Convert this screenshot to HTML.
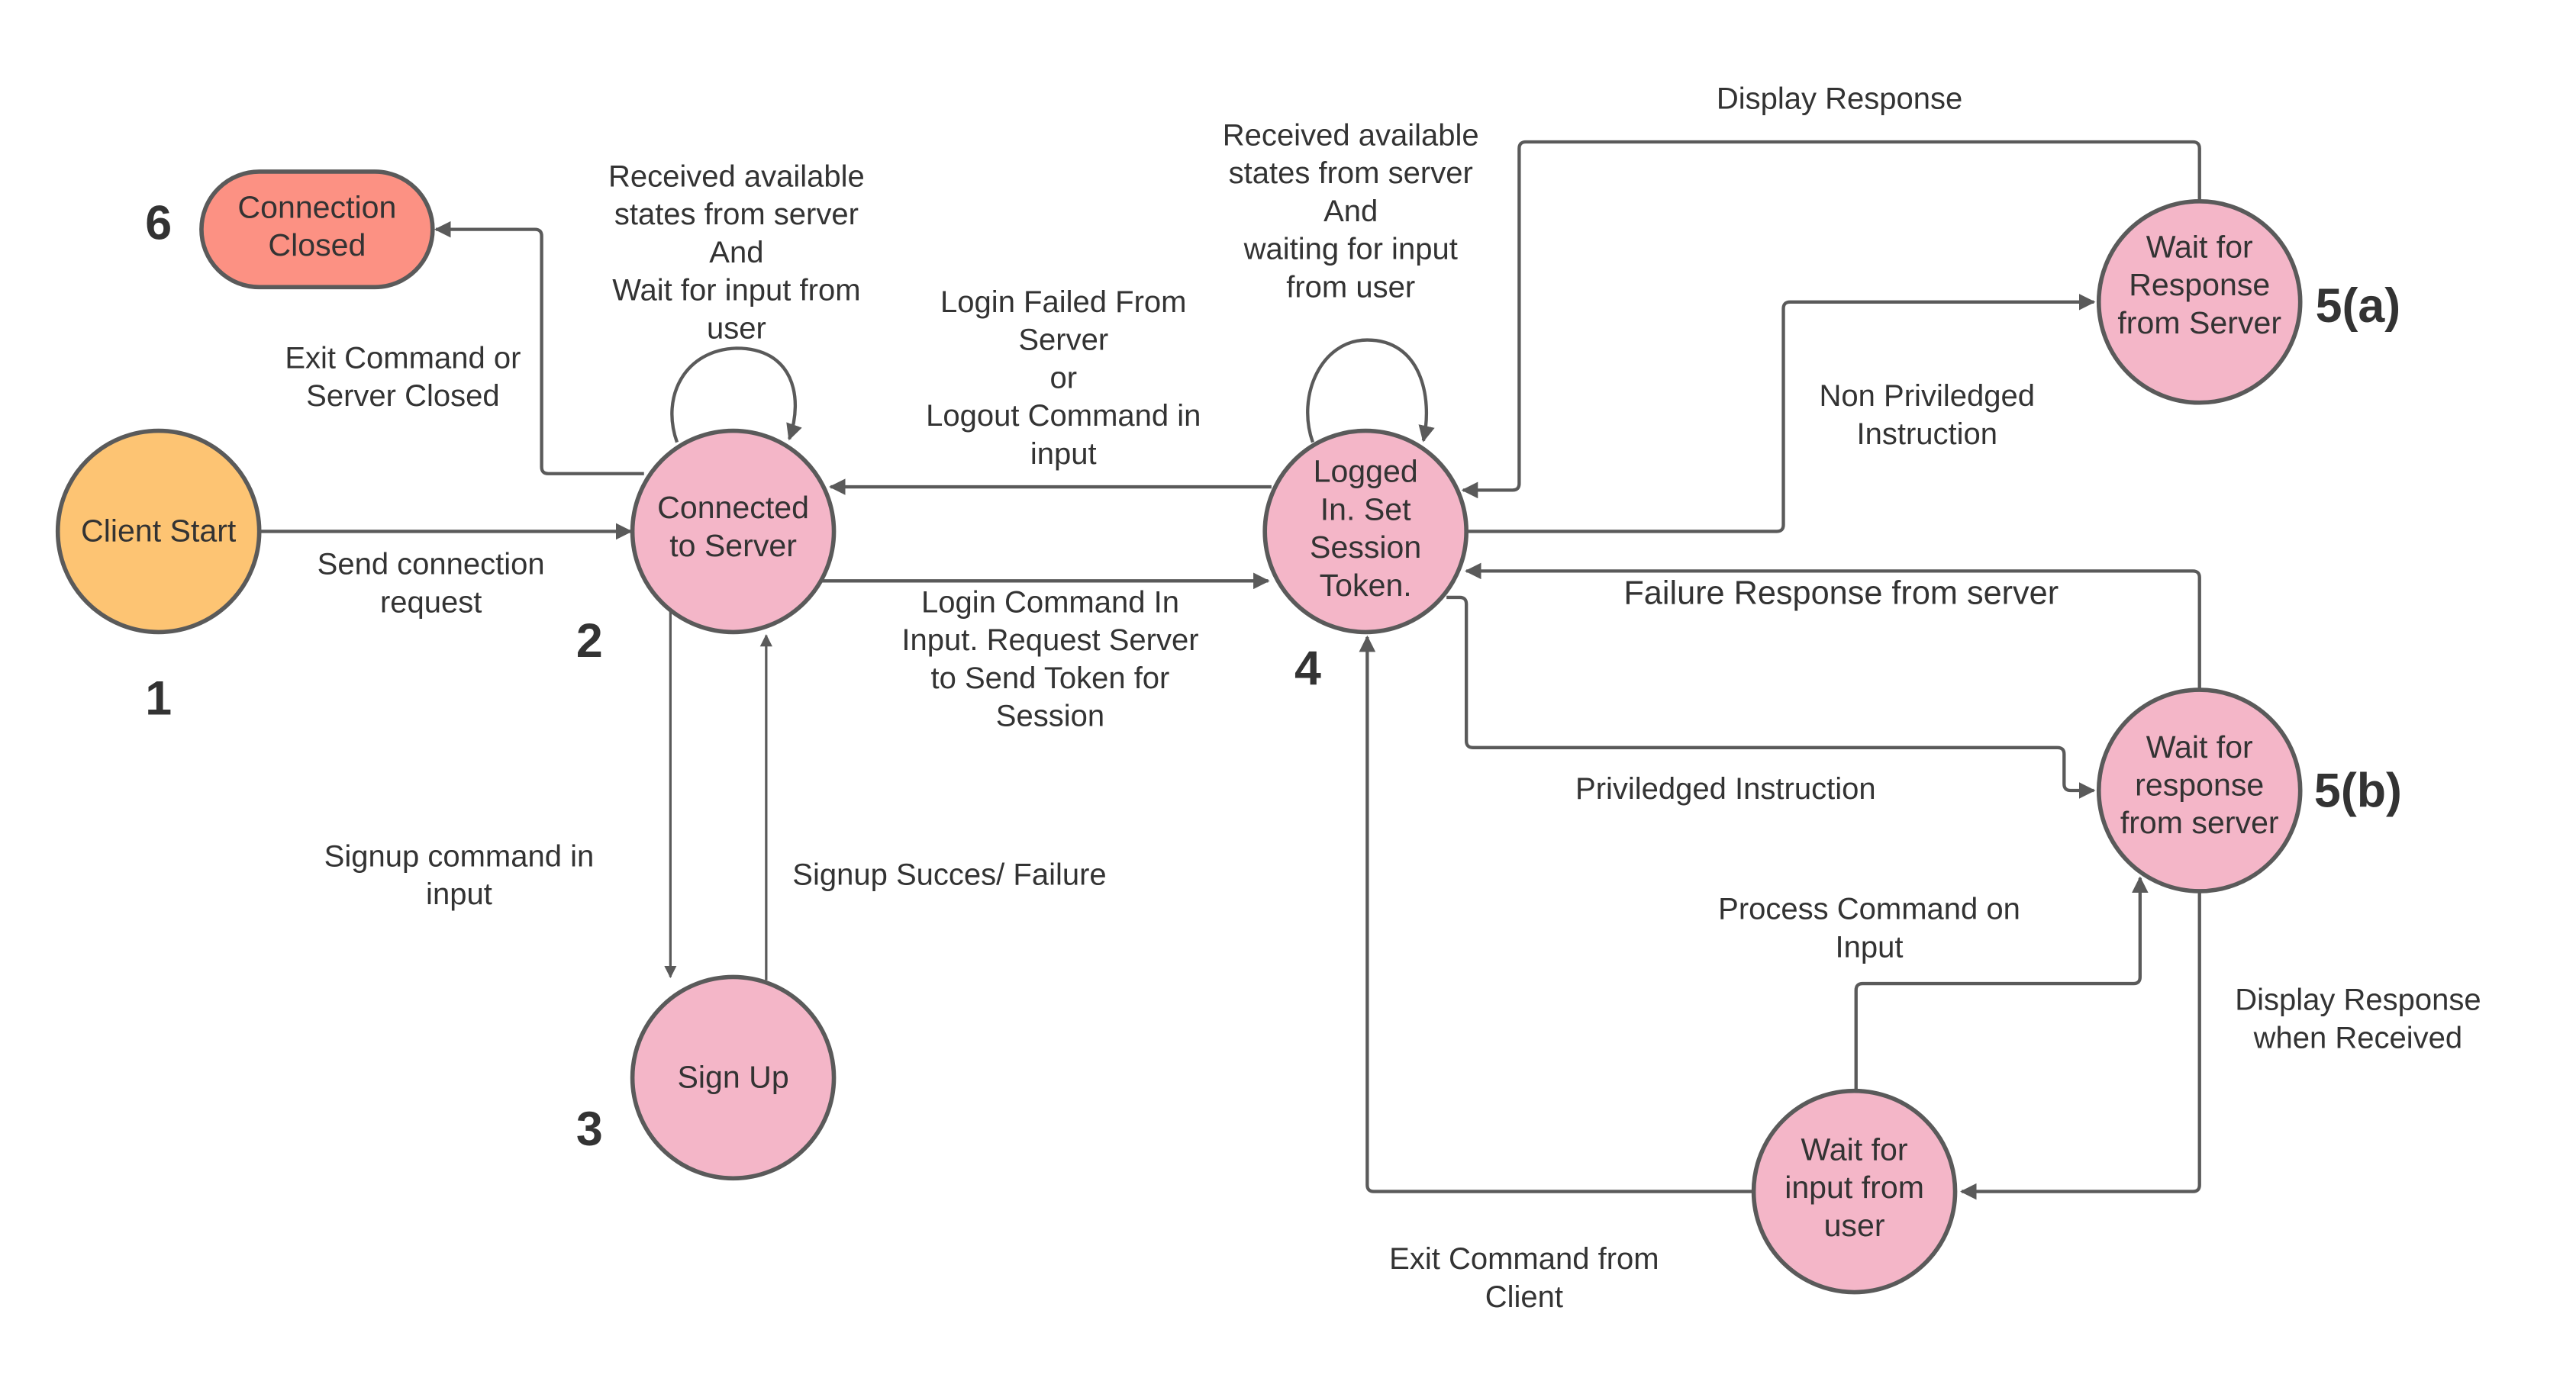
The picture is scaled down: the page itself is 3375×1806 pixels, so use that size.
<!DOCTYPE html>
<html><head><meta charset="utf-8"><style>
html,body{margin:0;padding:0;background:#fff}
svg{display:block}
text{font-family:"Liberation Sans",sans-serif;fill:#333}
.l{font-size:18.5px}
.n{font-size:19px}
.num{font-size:29px;font-weight:bold;fill:#c8283a}
</style></head><body>
<svg width="3375" height="1806" viewBox="0 0 1560 835" preserveAspectRatio="none" xmlns="http://www.w3.org/2000/svg">
<defs><marker id="a" viewBox="0 0 10 10" refX="9" refY="5" markerWidth="5" markerHeight="5" orient="auto-start-reverse"><path d="M0,0L10,5L0,10z" fill="#5a5a5a"/></marker></defs>
<g fill="none" stroke="#5a5a5a" stroke-width="2" marker-end="url(#a)">
<path d="M157,322H382"/>
<path d="M390,287H332Q328,287 328,283V143Q328,139 324,139H264"/>
<path d="M410,268C400,240 415,212 446,211C480,211 487,240 478,266"/>
<path d="M770,295H503"/>
<path d="M498,352H768"/>
<path d="M406,368V592" stroke-width="1.5"/>
<path d="M464,594V385" stroke-width="1.5"/>
<path d="M795,268C785,240 800,206 828,206C860,206 868,240 862,267"/>
<path d="M1332,122V90Q1332,86 1328,86H924Q920,86 920,90V293Q920,297 916,297H886"/>
<path d="M884,322H1076Q1080,322 1080,318V187Q1080,183 1084,183H1268"/>
<path d="M1332,418V350Q1332,346 1328,346H888"/>
<path d="M876,362H884Q888,362 888,366V449Q888,453 892,453H1246Q1250,453 1250,457V475Q1250,479 1254,479H1268"/>
<path d="M1332,540V718Q1332,722 1328,722H1188"/>
<path d="M1124,661V600Q1124,596 1128,596H1292Q1296,596 1296,592V532"/>
<path d="M1062,722H832Q828,722 828,718V386"/>
</g>
<g stroke="#5a5a5a" stroke-width="2.6">
<circle cx="96" cy="322" r="61" fill="#fdc473"/>
<circle cx="444" cy="322" r="61" fill="#f4b6c8"/>
<circle cx="444" cy="653" r="61" fill="#f4b6c8"/>
<circle cx="827" cy="322" r="61" fill="#f4b6c8"/>
<circle cx="1332" cy="183" r="61" fill="#f4b6c8"/>
<circle cx="1332" cy="479" r="61" fill="#f4b6c8"/>
<circle cx="1123" cy="722" r="61" fill="#f4b6c8"/>
<rect x="122" y="104" width="140" height="70" rx="35" fill="#fc9183"/>
</g>
<g class="n" text-anchor="middle">
<text x="96" y="328">Client Start</text>
<text x="444" y="314">Connected</text><text x="444" y="337">to Server</text>
<text x="444" y="659">Sign Up</text>
<text x="827" y="292">Logged</text><text x="827" y="315">In. Set</text><text x="827" y="338">Session</text><text x="827" y="361">Token.</text>
<text x="1332" y="156">Wait for</text><text x="1332" y="179">Response</text><text x="1332" y="202">from Server</text>
<text x="1332" y="459">Wait for</text><text x="1332" y="482">response</text><text x="1332" y="505">from server</text>
<text x="1123" y="703">Wait for</text><text x="1123" y="726">input from</text><text x="1123" y="749">user</text>
<text x="192" y="132">Connection</text><text x="192" y="155">Closed</text>
</g>
<g class="l" text-anchor="middle">
<text x="446" y="113">Received available</text><text x="446" y="136">states from server</text><text x="446" y="159">And</text><text x="446" y="182">Wait for input from</text><text x="446" y="205">user</text>
<text x="244" y="223">Exit Command or</text><text x="244" y="246">Server Closed</text>
<text x="261" y="348">Send connection</text><text x="261" y="371">request</text>
<text x="644" y="189">Login Failed From</text><text x="644" y="212">Server</text><text x="644" y="235">or</text><text x="644" y="258">Logout Command in</text><text x="644" y="281">input</text>
<text x="636" y="371">Login Command In</text><text x="636" y="394">Input. Request Server</text><text x="636" y="417">to Send Token for</text><text x="636" y="440">Session</text>
<text x="278" y="525">Signup command in</text><text x="278" y="548">input</text>
<text x="575" y="536">Signup Succes/ Failure</text>
<text x="818" y="88">Received available</text><text x="818" y="111">states from server</text><text x="818" y="134">And</text><text x="818" y="157">waiting for input</text><text x="818" y="180">from  user</text>
<text x="1114" y="66">Display Response</text>
<text x="1167" y="246">Non Priviledged</text><text x="1167" y="269">Instruction</text>
<text x="1115" y="366" style="font-size:20px">Failure Response from server</text>
<text x="1045" y="484">Priviledged Instruction</text>
<text x="1132" y="557">Process Command on</text><text x="1132" y="580">Input</text>
<text x="1428" y="612">Display Response</text><text x="1428" y="635">when Received</text>
<text x="923" y="769">Exit Command from</text><text x="923" y="792">Client</text>
</g>
<g class="num" text-anchor="middle">
<text x="96" y="433">1</text>
<text x="357" y="398">2</text>
<text x="357" y="694">3</text>
<text x="792" y="415">4</text>
<text x="96" y="145">6</text>
<text x="1428" y="195">5(a)</text>
<text x="1428" y="489">5(b)</text>
</g>
</svg>
</body></html>
